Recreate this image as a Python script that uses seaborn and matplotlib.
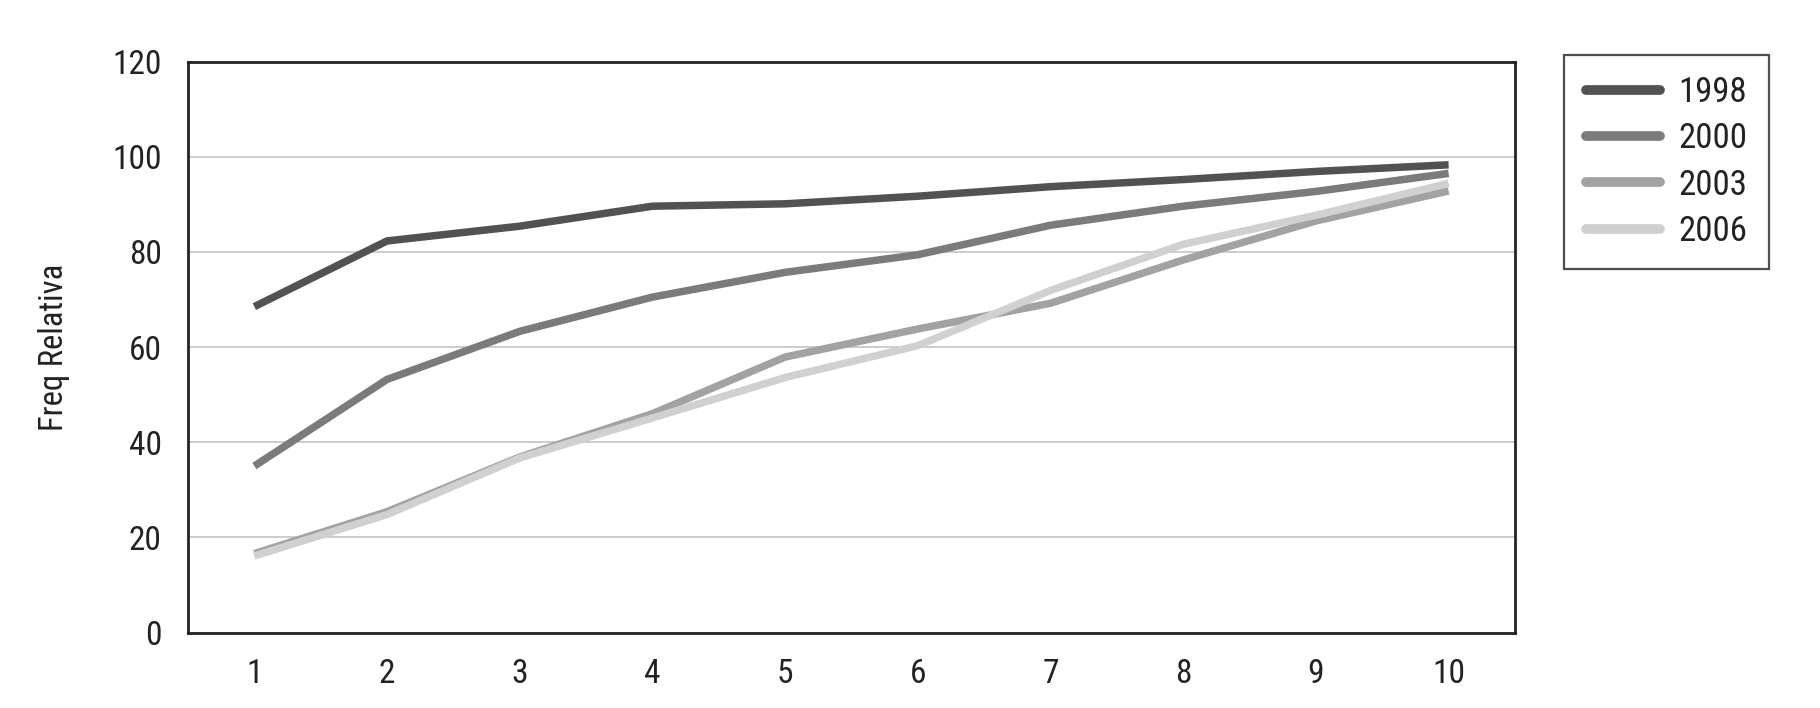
import pandas as pd
import matplotlib.pyplot as plt
import seaborn as sns
from matplotlib.ticker import FixedLocator, NullFormatter, FixedFormatter

# Datos
deciles = [1, 2, 3, 4, 5, 6, 7, 8, 9, 10]
f1998 = [68.5, 82.3, 85.4, 89.6, 90.1, 91.7, 93.7, 95.2, 96.9, 98.3]
f2000 = [35.0, 53.2, 63.3, 70.5, 75.7, 79.4, 85.6, 89.6, 92.7, 96.5]
f2003 = [16.6, 25.4, 36.9, 46.0, 57.9, 63.8, 69.2, 78.3, 86.5, 92.8]
f2006 = [16.1, 24.8, 36.7, 45.1, 53.6, 60.3, 71.9, 81.6, 87.7, 94.4]
years = ['1998', '2000', '2003', '2006']
colors = ['#525252', '#7b7b7b', '#a2a2a2', '#d0d0d0']

data = pd.DataFrame({
    'decil': deciles * 4,
    'freq': f1998 + f2000 + f2003 + f2006,
    'year': [y for y in years for _ in deciles],
})

sns.set_style('white')
plt.rcParams['font.family'] = ['Roboto Condensed', 'Liberation Sans Narrow',
                               'Liberation Sans', 'DejaVu Sans']

fig = plt.figure(figsize=(18.2, 7.08), dpi=100)
ax = fig.add_axes([0.1033, 0.1065, 0.7291, 0.8066])

sns.lineplot(data=data, x='decil', y='freq', hue='year', palette=colors,
             linewidth=5.4, solid_capstyle='butt', ax=ax, legend=True)

ax.set_xlim(0.5, 10.5)
ax.set_ylim(0, 120)
ax.set_yticks([0, 20, 40, 60, 80, 100, 120])
ax.yaxis.grid(True, color='#cccccc', linewidth=1.4)
ax.set_axisbelow(True)

# ticks between the categories, labels in the middle
ax.xaxis.set_major_locator(FixedLocator([i + 0.5 for i in range(0, 11)]))
ax.xaxis.set_major_formatter(NullFormatter())
ax.xaxis.set_minor_locator(FixedLocator(deciles))
ax.xaxis.set_minor_formatter(FixedFormatter([str(d) for d in deciles]))
ax.tick_params(axis='x', which='major', direction='out', length=14, width=1.6)
ax.tick_params(axis='x', which='minor', length=0, pad=18, labelsize=24)
ax.tick_params(axis='y', direction='out', length=14, width=1.6, labelsize=24, pad=5)
ax.tick_params(colors='#222222', which='both')

for s in ax.spines.values():
    s.set_color('#222222')
    s.set_linewidth(2)

ax.set_xlabel('')
ax.set_ylabel('Freq Relativa', fontsize=23.5, labelpad=30, color='#222222')

leg = ax.legend(loc='upper left', bbox_to_anchor=(1.037, 1.012), borderaxespad=0,
                frameon=True, fontsize=25, handlelength=2.15, handletextpad=0.52,
                labelspacing=0.38, borderpad=0.62, fancybox=False, edgecolor='#222222')
leg.get_frame().set_linewidth(1.6)
for line in leg.get_lines():
    line.set_linewidth(7)
    line.set_solid_capstyle('round')
for t in leg.get_texts():
    t.set_color('#222222')

fig.savefig('out.png', dpi=100, facecolor='white')
